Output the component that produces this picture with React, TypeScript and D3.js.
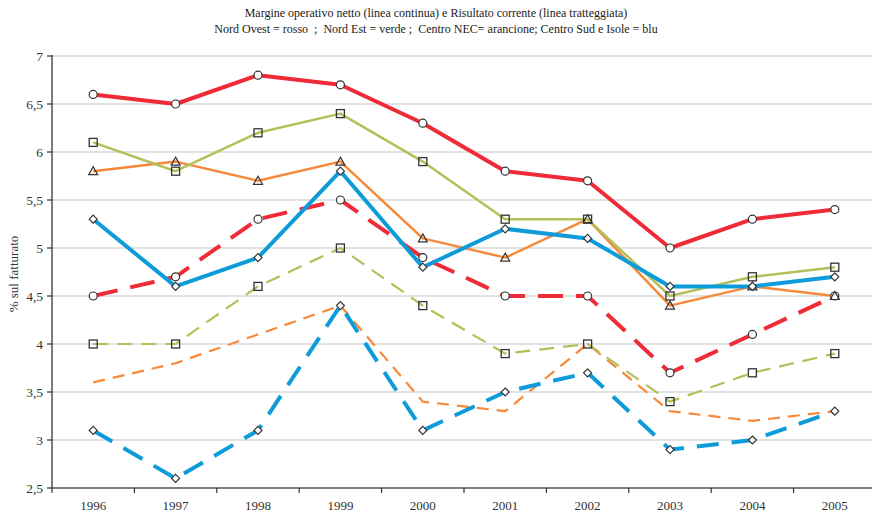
import React from "react";
import * as d3 from "d3";

const years = ["1996", "1997", "1998", "1999", "2000", "2001", "2002", "2003", "2004", "2005"];
const yTicks = [2.5, 3, 3.5, 4, 4.5, 5, 5.5, 6, 6.5, 7];

const ovestMargine = [6.6, 6.5, 6.8, 6.7, 6.3, 5.8, 5.7, 5.0, 5.3, 5.4];
const ovestRisultato = [4.5, 4.7, 5.3, 5.5, 4.9, 4.5, 4.5, 3.7, 4.1, 4.5];
const estMargine = [6.1, 5.8, 6.2, 6.4, 5.9, 5.3, 5.3, 4.5, 4.7, 4.8];
const estRisultato = [4.0, 4.0, 4.6, 5.0, 4.4, 3.9, 4.0, 3.4, 3.7, 3.9];
const centroMargine = [5.8, 5.9, 5.7, 5.9, 5.1, 4.9, 5.3, 4.4, 4.6, 4.5];
const centroRisultato = [3.6, 3.8, 4.1, 4.4, 3.4, 3.3, 4.0, 3.3, 3.2, 3.3];
const sudMargine = [5.3, 4.6, 4.9, 5.8, 4.8, 5.2, 5.1, 4.6, 4.6, 4.7];
const sudRisultato = [3.1, 2.6, 3.1, 4.4, 3.1, 3.5, 3.7, 2.9, 3.0, 3.3];

const RED = "#ee2b36";
const GREEN = "#b3c05a";
const ORANGE = "#f6893a";
const BLUE = "#0d9cd9";

type Series = {
  values: number[];
  color: string;
  width: number;
  dash?: string;
  marker?: "circle" | "square" | "triangle" | "diamond";
};

const series: Series[] = [
  { values: centroRisultato, color: ORANGE, width: 2.2, dash: "12,8" },
  { values: estRisultato, color: GREEN, width: 2.2, dash: "15,9", marker: "square" },
  { values: sudRisultato, color: BLUE, width: 4, dash: "22,13", marker: "diamond" },
  { values: ovestRisultato, color: RED, width: 4, dash: "25,13", marker: "circle" },
  { values: centroMargine, color: ORANGE, width: 2.5, marker: "triangle" },
  { values: estMargine, color: GREEN, width: 2.5, marker: "square" },
  { values: sudMargine, color: BLUE, width: 4, marker: "diamond" },
  { values: ovestMargine, color: RED, width: 4, marker: "circle" },
];

const W = 872;
const H = 513;
const left = 52;
const right = 876;
const top = 56;
const bottom = 488;
const FONT = "Liberation Serif";
const NB = "\u00a0";

export default function App() {
  const x = d3.scaleBand<string>().domain(years).range([left, right]);
  const y = d3.scaleLinear().domain([2.5, 7]).range([bottom, top]);
  const cx = (i: number) => (x(years[i]) as number) + x.bandwidth() / 2;
  const line = d3
    .line<number>()
    .x((_, i) => cx(i))
    .y((v) => y(v));

  const marker = (kind: string, px: number, py: number, key: string) => {
    const stroke = "#333";
    if (kind === "circle")
      return <circle key={key} cx={px} cy={py} r={4} fill="#fff" stroke={stroke} strokeWidth={1.2} />;
    if (kind === "square")
      return <rect key={key} x={px - 4} y={py - 4} width={8} height={8} fill="none" stroke={stroke} strokeWidth={1.3} />;
    if (kind === "triangle")
      return (
        <path
          key={key}
          d={`M${px},${py - 4.5} L${px + 4.5},${py + 3.5} L${px - 4.5},${py + 3.5} Z`}
          fill="none"
          stroke={stroke}
          strokeWidth={1.2}
        />
      );
    return (
      <path
        key={key}
        d={`M${px},${py - 4} L${px + 4},${py} L${px},${py + 4} L${px - 4},${py} Z`}
        fill="#fff"
        stroke={stroke}
        strokeWidth={1.2}
      />
    );
  };

  const subtitle = `Nord Ovest = rosso${NB}${NB};${NB}${NB}Nord Est = verde ;${NB}${NB}Centro NEC= arancione; Centro Sud e Isole = blu`;

  return (
    <svg width={W} height={H} style={{ position: "absolute", left: 0, top: 0 }}>
      <rect width={W} height={H} fill="#fff" />
      <g fontFamily={FONT} fill="#222">
        <text x={436} y={17} textAnchor="middle" fontSize={12}>
          Margine operativo netto (linea continua) e Risultato corrente (linea tratteggiata)
        </text>
        <text x={436} y={33} textAnchor="middle" fontSize={12}>
          {subtitle}
        </text>
      </g>
      {yTicks.map((t) =>
        t === 2.5 ? null : (
          <line key={"g" + t} x1={left} x2={right} y1={y(t)} y2={y(t)} stroke="#c3c7c7" strokeWidth={1.2} />
        )
      )}
      {series.map((s, si) => (
        <path
          key={"s" + si}
          d={line(s.values) as string}
          fill="none"
          stroke={s.color}
          strokeWidth={s.width}
          strokeDasharray={s.dash}
          strokeLinejoin="round"
        />
      ))}
      {series.map((s, si) =>
        s.marker ? s.values.map((v, i) => marker(s.marker as string, cx(i), y(v), `m${si}-${i}`)) : null
      )}
      <line x1={left} x2={left} y1={top - 1} y2={bottom} stroke="#333" strokeWidth={1.3} />
      <line x1={left} x2={right} y1={bottom} y2={bottom} stroke="#555" strokeWidth={1.3} />
      <g fontFamily={FONT} fill="#333">
        {yTicks.map((t) => (
          <g key={"yt" + t}>
            <line x1={left - 5} x2={left} y1={y(t)} y2={y(t)} stroke="#333" strokeWidth={1.2} />
            <text x={left - 9} y={y(t) + 4.5} textAnchor="end" fontSize={13.5}>
              {String(t).replace(".", ",")}
            </text>
          </g>
        ))}
        {years.map((yr, i) => (
          <g key={"xt" + yr}>
            {i > 0 && (
              <line
                x1={x(yr) as number}
                x2={x(yr) as number}
                y1={bottom}
                y2={bottom + 5}
                stroke="#333"
                strokeWidth={1.2}
              />
            )}
            <text x={cx(i)} y={bottom + 22} textAnchor="middle" fontSize={13}>
              {yr}
            </text>
          </g>
        ))}
        <line x1={left} x2={left} y1={bottom} y2={bottom + 5} stroke="#333" strokeWidth={1.2} />
        <text
          transform={`translate(18,${(top + bottom) / 2 + 2}) rotate(-90)`}
          textAnchor="middle"
          fontSize={13}
        >
          % sul fatturato
        </text>
      </g>
    </svg>
  );
}
